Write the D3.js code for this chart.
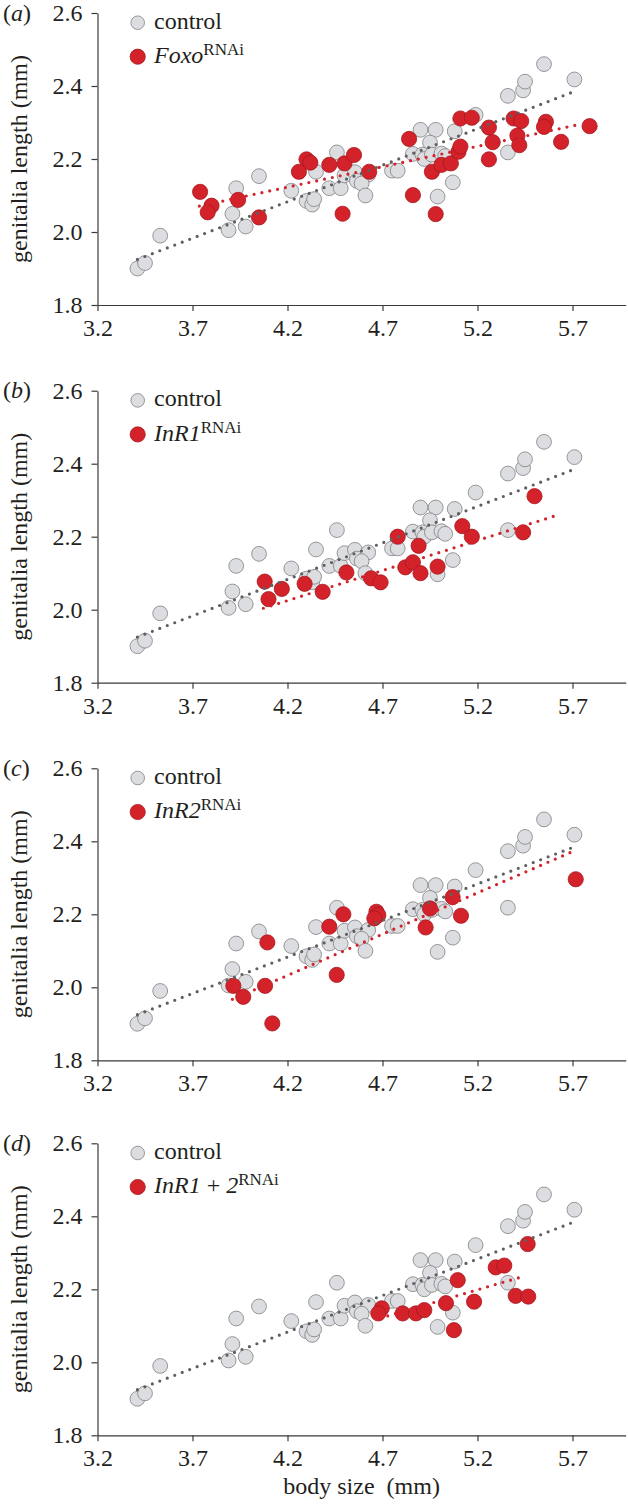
<!DOCTYPE html>
<html>
<head>
<meta charset="utf-8">
<script src="https://cdn.jsdelivr.net/npm/d3@7"></script>
<style>
  html, body { margin: 0; padding: 0; background: #fff; }
  svg { display: block; }
  text { font-family: "Liberation Serif", "Times New Roman", serif; fill: #231f20; }
</style>
</head>
<body>
<svg id="chart" width="628" height="1507"></svg>
<script>
// ---------- data ----------
const xTicks = [3.2, 3.7, 4.2, 4.7, 5.2, 5.7];
const yTicks = [1.8, 2.0, 2.2, 2.4, 2.6];
const panelLetters = ["a", "b", "c", "d"];

// control (same in every panel)
const controlBody = [3.41, 3.45, 3.53, 3.89, 3.91, 3.93, 3.98, 4.05, 4.22, 4.30, 4.33, 4.34, 4.35, 4.46,
  4.42, 4.48, 4.50, 4.555, 4.565, 4.625, 4.59, 4.61, 4.75, 4.78, 4.90, 4.98, 4.95, 4.86, 4.91, 4.92, 4.96,
  5.01, 5.03, 5.08, 5.07, 4.99, 5.19, 5.36, 5.44, 5.45, 5.55, 5.71, 5.36];
const controlGenitalia = [1.900, 1.915, 1.990, 2.005, 2.050, 2.120, 2.015, 2.153, 2.113, 2.085, 2.075, 2.090, 2.165, 2.218,
  2.120, 2.120, 2.155, 2.164, 2.140, 2.157, 2.133, 2.100, 2.168, 2.168, 2.280, 2.280, 2.245, 2.214, 2.212, 2.200, 2.212,
  2.215, 2.208, 2.276, 2.136, 2.097, 2.321, 2.373, 2.388, 2.412, 2.460, 2.418, 2.218];

// (a) Foxo RNAi
const foxoBody = [3.74, 3.80, 3.78, 3.94, 4.05, 4.26, 4.30, 4.32, 4.42, 4.50, 4.55, 4.49, 4.63, 4.84, 4.86, 4.98,
  4.96, 5.01, 5.06, 5.10, 5.11, 5.11, 5.17, 5.26, 5.28, 5.26, 5.39, 5.43, 5.41, 5.42, 5.56, 5.55, 5.64, 5.79];
const foxoGenitalia = [2.110, 2.072, 2.054, 2.088, 2.040, 2.165, 2.199, 2.190, 2.184, 2.188, 2.211, 2.050, 2.165, 2.255, 2.101, 2.049,
  2.165, 2.184, 2.188, 2.220, 2.234, 2.311, 2.313, 2.286, 2.246, 2.199, 2.311, 2.304, 2.264, 2.238, 2.302, 2.288, 2.247, 2.290];

// (b) InR1 RNAi
const inr1Body = [4.08, 4.10, 4.17, 4.29, 4.385, 4.51, 4.64, 4.69, 4.78, 4.89, 4.82, 4.86, 4.90, 4.99, 5.12, 5.17, 5.44, 5.50];
const inr1Genitalia = [2.077, 2.029, 2.057, 2.071, 2.049, 2.102, 2.086, 2.075, 2.200, 2.175, 2.116, 2.130, 2.100, 2.118, 2.229, 2.200, 2.212, 2.311];

// (c) InR2 RNAi
const inr2Body = [3.915, 3.967, 4.082, 4.094, 4.12, 4.42, 4.494, 4.459, 4.668, 4.678, 4.657, 4.95, 4.927, 5.069, 5.113, 5.717];
const inr2Genitalia = [2.004, 1.974, 2.004, 2.123, 1.901, 2.166, 2.200, 2.034, 2.207, 2.198, 2.189, 2.216, 2.164, 2.247, 2.196, 2.296];

// (d) InR1 + 2 RNAi
const inr12Body = [4.696, 4.678, 4.806, 4.876, 4.92, 5.034, 5.096, 5.182, 5.076, 5.296, 5.341, 5.401, 5.467, 5.464];
const inr12Genitalia = [2.148, 2.134, 2.134, 2.134, 2.143, 2.162, 2.225, 2.166, 2.088, 2.260, 2.265, 2.182, 2.180, 2.324];

// fitted lines (end points)
const controlFit = [[3.41, 1.925], [5.70, 2.383]];
const foxoFit = [[3.736, 2.071], [5.73, 2.294]];
const inr1Fit = [[4.073, 2.004], [5.608, 2.257]];
const inr2Fit = [[3.91, 1.967], [5.692, 2.370]];
const inr12Fit = [[4.687, 2.121], [5.446, 2.236]];

const treatments = [
  { body: foxoBody, gen: foxoGenitalia, fit: foxoFit, label: [["Foxo", "i"]] },
  { body: inr1Body, gen: inr1Genitalia, fit: inr1Fit, label: [["InR1", "i"]] },
  { body: inr2Body, gen: inr2Genitalia, fit: inr2Fit, label: [["InR2", "i"]] },
  { body: inr12Body, gen: inr12Genitalia, fit: inr12Fit, label: [["InR1", "i"], [" + ", "n"], ["2", "i"]] }
];

// ---------- layout ----------
const panelTops = [13, 390.7, 768.3, 1143.3];
const plotH = 292;
const xLeft = 97.5, xRight = 625.7;
const FS = 24;
const grayFill = "#dcdde0", grayStroke = "#808083";
const redFill = "#d3222a", redStroke = "#a5191f";
const grayLine = "#5e5f61", redLine = "#d3222a";

const svg = d3.select("#chart");
const x = d3.scaleLinear().domain([3.2, 5.98]).range([xLeft, xRight]);

treatments.forEach((t, i) => {
  const top = panelTops[i];
  const y = d3.scaleLinear().domain([1.8, 2.6]).range([top + plotH, top]);
  const g = svg.append("g");

  // axes
  const xAxis = d3.axisBottom(x).tickValues(xTicks).tickFormat(d3.format(".1f"))
    .tickSizeInner(6).tickSizeOuter(0).tickPadding(8);
  const yAxis = d3.axisLeft(y).tickValues(yTicks).tickFormat(d3.format(".1f"))
    .tickSizeInner(6).tickSizeOuter(0).tickPadding(9);
  const gx = g.append("g").attr("transform", `translate(0,${top + plotH})`).call(xAxis);
  const gy = g.append("g").attr("transform", `translate(${xLeft},0)`).call(yAxis);
  [gx, gy].forEach(a => {
    a.selectAll("path, line").attr("stroke", "#3a3a3a").attr("stroke-width", 1.2);
    a.selectAll("text").attr("font-size", FS).attr("font-family", "Liberation Serif").attr("fill", "#231f20");
  });

  // y label
  g.append("text")
    .attr("transform", `translate(27,${top + plotH / 2}) rotate(-90)`)
    .attr("text-anchor", "middle").attr("font-size", FS)
    .text("genitalia length (mm)");

  // panel letter
  const pl = g.append("text").attr("x", 3).attr("y", top + 7.7).attr("font-size", FS);
  pl.append("tspan").text("(");
  pl.append("tspan").attr("font-style", "italic").text(panelLetters[i]);
  pl.append("tspan").text(")");

  // control points
  g.append("g").selectAll("circle").data(controlBody.map((b, k) => [b, controlGenitalia[k]]))
    .join("circle")
    .attr("cx", d => x(d[0])).attr("cy", d => y(d[1])).attr("r", 7.4)
    .attr("fill", grayFill).attr("stroke", grayStroke).attr("stroke-width", 0.8);

  // treatment points
  g.append("g").selectAll("circle").data(t.body.map((b, k) => [b, t.gen[k]]))
    .join("circle")
    .attr("cx", d => x(d[0])).attr("cy", d => y(d[1])).attr("r", 7.6)
    .attr("fill", redFill).attr("stroke", redStroke).attr("stroke-width", 0.8);

  // fit lines
  const line = d3.line().x(d => x(d[0])).y(d => y(d[1]));
  g.append("path").attr("d", line(controlFit)).attr("fill", "none")
    .attr("stroke", grayLine).attr("stroke-width", 3.2).attr("stroke-linecap", "round")
    .attr("stroke-dasharray", "0 8");
  g.append("path").attr("d", line(t.fit)).attr("fill", "none")
    .attr("stroke", redLine).attr("stroke-width", 3.2).attr("stroke-linecap", "round")
    .attr("stroke-dasharray", "0 8");

  // legend
  g.append("circle").attr("cx", 137.7).attr("cy", top + 9.7).attr("r", 6.8)
    .attr("fill", grayFill).attr("stroke", grayStroke).attr("stroke-width", 0.8);
  g.append("text").attr("x", 154).attr("y", top + 15.5).attr("font-size", FS).text("control");
  g.append("circle").attr("cx", 137.7).attr("cy", top + 43.7).attr("r", 7.6)
    .attr("fill", redFill).attr("stroke", redStroke).attr("stroke-width", 0.8);
  const lt = g.append("text").attr("x", 154).attr("y", top + 50).attr("font-size", FS);
  t.label.forEach(([s, st]) => {
    lt.append("tspan").attr("font-style", st === "i" ? "italic" : "normal")
      .style("white-space", "pre").text(s);
  });
  lt.append("tspan").attr("dy", -8).attr("font-size", 17).text("RNAi");
});

// x label
svg.append("text").attr("x", (xLeft + xRight) / 2).attr("y", 1494)
  .attr("text-anchor", "middle").attr("font-size", FS)
  .style("white-space", "pre").text("body size  (mm)");
</script>
</body>
</html>
